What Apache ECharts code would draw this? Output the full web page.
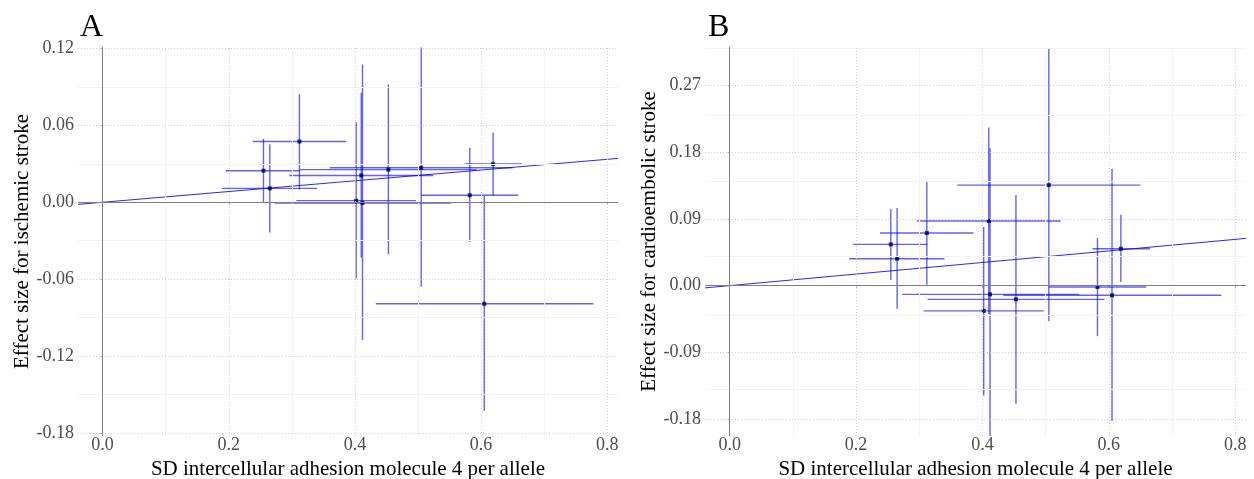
<!DOCTYPE html>
<html>
<head>
<meta charset="utf-8">
<script src="https://cdn.jsdelivr.net/npm/echarts@6/dist/echarts.min.js"></script>
<style>
  html, body { margin: 0; padding: 0; background: #fff; }
  #chart { width: 1254px; height: 479px; }
</style>
</head>
<body>
<div id="chart"></div>
<script>
// SNP estimates for the exposure (same in both panels)
const snpX   = [0.255, 0.265, 0.312, 0.410, 0.412, 0.402, 0.453, 0.505, 0.582, 0.605, 0.619]
const snpXLo = [0.195, 0.189, 0.238, 0.296, 0.273, 0.307, 0.313, 0.360, 0.505, 0.433, 0.574]
const snpXHi = [0.313, 0.340, 0.386, 0.524, 0.553, 0.497, 0.593, 0.650, 0.659, 0.778, 0.665]

// panel A: ischemic stroke
const isY   = [0.0247, 0.0109, 0.0475, 0.0210, -0.0005, 0.0013, 0.0255, 0.0270, 0.0055, -0.0792, 0.0299]
const isYLo = [0.0002, -0.0236, 0.0099, -0.0431, -0.1076, -0.0595, -0.0405, -0.0660, -0.0310, -0.1630, 0.0055]
const isYHi = [0.0496, 0.0454, 0.0847, 0.0855, 0.1076, 0.0626, 0.0920, 0.1210, 0.0426, 0.0049, 0.0543]
const isFit = [[-0.039, -0.0016], [0.817, 0.0343]]

// panel B: cardioembolic stroke
const ceY   = [0.0556, 0.0363, 0.0709, 0.0871, -0.0117, -0.0340, -0.0184, 0.1355, -0.0018, -0.0130, 0.0498]
const ceYLo = [0.0077, -0.0310, 0.0013, -0.0380, -0.2080, -0.1480, -0.1590, -0.0480, -0.0680, -0.1820, 0.0050]
const ceYHi = [0.1032, 0.1046, 0.1396, 0.2130, 0.1850, 0.0790, 0.1220, 0.3190, 0.0642, 0.1575, 0.0956]
const ceFit = [[-0.039, -0.0030], [0.817, 0.0637]]

// ticks
const xTicks = [0, 0.2, 0.4, 0.6, 0.8]
const xTickLabels = ['0.0', '0.2', '0.4', '0.6', '0.8']
const xMinor = [0.1, 0.3, 0.5, 0.7]
const isTicks = [-0.18, -0.12, -0.06, 0, 0.06, 0.12]
const isTickLabels = ['-0.18', '-0.12', '-0.06', '0.00', '0.06', '0.12']
const isMinor = [-0.15, -0.09, -0.03, 0.03, 0.09]
const ceTicks = [-0.18, -0.09, 0, 0.09, 0.18, 0.27]
const ceTickLabels = ['-0.18', '-0.09', '0.00', '0.09', '0.18', '0.27']
const ceMinor = [-0.135, -0.045, 0.045, 0.135, 0.225, 0.315]

const serif = 'Liberation Serif'
const chart = echarts.init(document.getElementById('chart'))

const rows = (y, lo, hi) => snpX.map((x, i) => [x, y[i], snpXLo[i], snpXHi[i], lo[i], hi[i]])

// error bars in both directions
const renderBars = (params, api) => {
  const l = api.coord([api.value(2), api.value(1)])
  const r = api.coord([api.value(3), api.value(1)])
  const b = api.coord([api.value(0), api.value(4)])
  const t = api.coord([api.value(0), api.value(5)])
  const style = { stroke: 'rgba(0,0,255,0.62)', lineWidth: 1.4 }
  return {
    type: 'group',
    children: [
      { type: 'line', shape: { x1: l[0], y1: l[1], x2: r[0], y2: r[1] }, style },
      { type: 'line', shape: { x1: b[0], y1: b[1], x2: t[0], y2: t[1] }, style }
    ]
  }
}

const major = { type: [1, 2], color: '#cfcfcf', width: 1 }
const minor = { type: 'solid', color: '#f3f3f3', width: 1 }

const gridLines = (idx, yTicks, yMinor) => ({
  type: 'line', xAxisIndex: idx, yAxisIndex: idx, data: [], silent: true, z: 0,
  markLine: {
    silent: true, symbol: ['none', 'none'], label: { show: false }, animation: false,
    data: [
      ...xMinor.map(v => ({ xAxis: v, lineStyle: minor })),
      ...yMinor.map(v => ({ yAxis: v, lineStyle: minor })),
      ...xTicks.filter(v => v !== 0).map(v => ({ xAxis: v, lineStyle: major })),
      ...yTicks.filter(v => v !== 0).map(v => ({ yAxis: v, lineStyle: major }))
    ]
  }
})

const zeroLines = (idx) => ({
  type: 'line', xAxisIndex: idx, yAxisIndex: idx, data: [], silent: true, z: 1,
  markLine: {
    silent: true, symbol: ['none', 'none'], label: { show: false }, animation: false,
    lineStyle: { type: 'solid', color: '#7f7f7f', width: 1 },
    data: [{ xAxis: 0 }, { yAxis: 0 }]
  }
})

const xAxisFor = (idx) => ({
  gridIndex: idx, type: 'value', min: -0.039, max: 0.817,
  axisLine: { show: false },
  splitLine: { show: false },
  axisTick: { show: true, customValues: xTicks, length: 2, lineStyle: { color: '#aaa' } },
  axisLabel: {
    customValues: xTicks, margin: 0,
    formatter: v => xTickLabels[xTicks.indexOf(Math.round(v * 10) / 10)],
    color: '#4d4d4d', fontFamily: serif, fontSize: 18
  },
  name: 'SD intercellular adhesion molecule 4 per allele',
  nameLocation: 'middle', nameGap: 17,
  nameTextStyle: { color: '#000', fontFamily: serif, fontSize: 21 }
})

const yAxisFor = (idx, min, max, ticks, labels, name) => ({
  gridIndex: idx, type: 'value', min, max,
  axisLine: { show: false },
  splitLine: { show: false },
  axisTick: { show: true, customValues: ticks, length: 2, lineStyle: { color: '#aaa' } },
  axisLabel: {
    customValues: ticks, margin: 4,
    formatter: v => labels[ticks.findIndex(t => Math.abs(t - v) < 1e-6)],
    color: '#4d4d4d', fontFamily: serif, fontSize: 18
  },
  name, nameLocation: 'middle', nameGap: 42,
  nameTextStyle: { color: '#000', fontFamily: serif, fontSize: 21 }
})

const options = {
  animation: false,
  title: [
    { text: 'A', left: 75, top: 7, textStyle: { fontFamily: serif, fontSize: 32, fontWeight: 'normal', color: '#000' } },
    { text: 'B', left: 703, top: 7, textStyle: { fontFamily: serif, fontSize: 32, fontWeight: 'normal', color: '#000' } }
  ],
  grid: [
    { left: 78, top: 47, width: 540, bottom: 43, outerBoundsMode: 'none' },
    { left: 705, top: 47, width: 541, bottom: 43, outerBoundsMode: 'none' }
  ],
  xAxis: [xAxisFor(0), xAxisFor(1)],
  yAxis: [
    yAxisFor(0, -0.1825, 0.1213, isTicks, isTickLabels, 'Effect size for ischemic stroke'),
    yAxisFor(1, -0.2025, 0.3215, ceTicks, ceTickLabels, 'Effect size for cardioembolic stroke')
  ],
  series: [
    gridLines(0, isTicks, isMinor),
    gridLines(1, ceTicks, ceMinor),
    zeroLines(0),
    zeroLines(1),
    {
      type: 'line', xAxisIndex: 0, yAxisIndex: 0, data: isFit, showSymbol: false, z: 2,
      lineStyle: { color: 'rgba(0,0,255,0.85)', width: 1 }
    },
    {
      type: 'line', xAxisIndex: 1, yAxisIndex: 1, data: ceFit, showSymbol: false, z: 2,
      lineStyle: { color: 'rgba(0,0,255,0.85)', width: 1 }
    },
    {
      type: 'custom', xAxisIndex: 0, yAxisIndex: 0, clip: true, z: 3,
      renderItem: renderBars, encode: { x: [0, 2, 3], y: [1, 4, 5] },
      data: rows(isY, isYLo, isYHi)
    },
    {
      type: 'custom', xAxisIndex: 1, yAxisIndex: 1, clip: true, z: 3,
      renderItem: renderBars, encode: { x: [0, 2, 3], y: [1, 4, 5] },
      data: rows(ceY, ceYLo, ceYHi)
    },
    {
      type: 'scatter', xAxisIndex: 0, yAxisIndex: 0, symbol: 'rect', symbolSize: 4, z: 4,
      itemStyle: { color: '#00003a' },
      data: snpX.map((x, i) => [x, isY[i]])
    },
    {
      type: 'scatter', xAxisIndex: 1, yAxisIndex: 1, symbol: 'rect', symbolSize: 4, z: 4,
      itemStyle: { color: '#00003a' },
      data: snpX.map((x, i) => [x, ceY[i]])
    }
  ]
}

chart.setOption(options)
</script>
</body>
</html>
